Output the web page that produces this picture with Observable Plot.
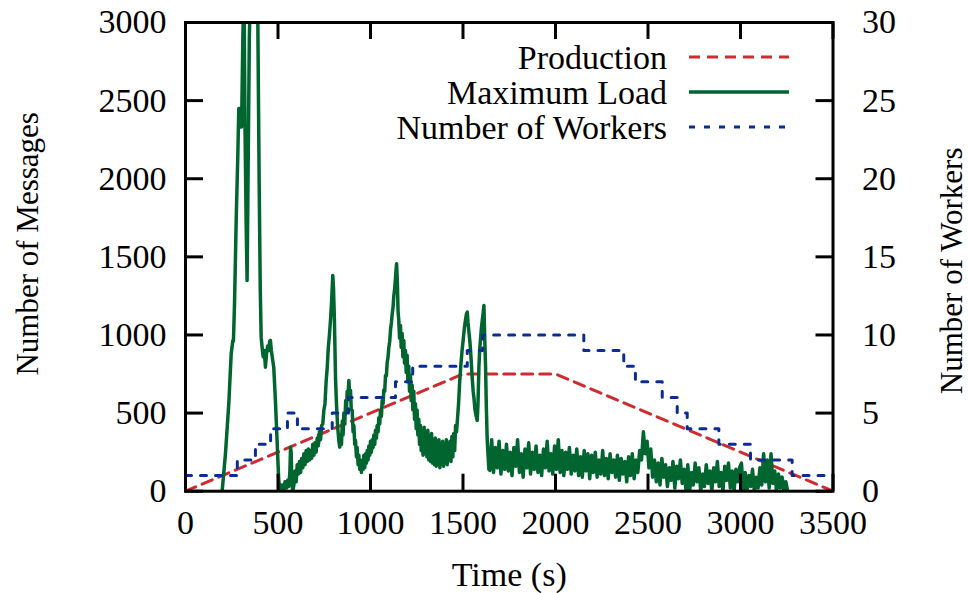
<!DOCTYPE html>
<html><head><meta charset="utf-8">
<script src="https://cdn.jsdelivr.net/npm/d3@7"></script>
<script src="https://cdn.jsdelivr.net/npm/@observablehq/plot@0.6"></script>
<style>body{margin:0;background:#fff}#chart{width:968px;height:593px}</style>
</head><body><div id="chart"></div>
<script>
// ---- data ----
const seriesNames = ["Production", "Maximum Load", "Number of Workers"];
const productionTime = [0, 1500, 2000, 3500];
const productionValue = [0, 750, 750, 0];
const workerTime = [0, 280, 378, 460, 551, 605, 793, 881, 1135, 1228, 1523, 1606, 2153, 2369, 2432, 2577, 2658, 2712, 2883, 3054, 3279, 3500];
const workerCount = [1, 2, 3, 4, 5, 4, 5, 6, 7, 8, 9, 10, 9, 8, 7, 6, 5, 4, 3, 2, 1, 1];
const loadPoints = [
[198,0],[216,239],[234,560],[247,880],[256,965],[259,960],[265,1200],[274,1734],[283,2160],[288,2449],[296,2449],[299,2331],[303,2331],[310,2900],[316,3250],[322,2300],[328,1700],[333,1348],[338,2000],[345,2900],[352,3300],[372,3500],[386,3300],[391,3000],[398,2000],[404,1300],[409,986],[414,922],[420,860],[426,900],[432,794],[438,880],[444,930],[450,900],[455,960],[459,965],[464,901],[470,850],[477,794],[486,581],[495,325],[504,68],[513,0],
[522,40],[530,0],[538,60],[546,20],[552,70],[558,30],[564,120],[568,282],[571,250],[575,60],[580,0],[586,40],[592,130],[598,60],[604,170],[610,110],[616,190],[622,120],[628,210],[634,150],[640,240],[646,170],[652,260],[658,190],[664,270],[670,200],[676,260],[682,210],[688,300],[694,230],[700,310],[706,250],[712,340],[718,290],[724,380],[730,330],[736,420],[742,430],[748,520],[754,560],[760,700],[766,790],[772,920],[778,1000],[784,1100],[790,1220],[796,1381],
[800,1300],[805,1093],[811,720],[816,560],[822,420],[829,320],[834,282],[838,360],[843,300],[848,450],[852,360],[856,500],[861,430],[866,580],[870,520],[874,640],[878,600],[883,709],[887,620],[892,645],[896,520],[901,517],[906,380],[910,420],[915,300],[919,325],[924,220],[928,280],[933,170],[937,230],[942,140],[946,200],[951,120],[955,190],[960,140],[964,230],[969,150],[973,240],[978,180],[982,260],[987,200],[991,290],[996,230],[1000,320],[1005,250],[1009,330],[1014,280],[1018,360],[1023,300],[1027,390],[1032,340],[1036,420],[1041,380],[1045,470],[1050,430],[1054,520],[1059,480],[1063,580],[1068,560],[1072,650],[1077,640],[1081,740],[1086,740],[1090,820],[1095,860],[1099,920],[1104,960],[1108,1030],[1113,1080],[1117,1130],[1122,1180],[1126,1250],[1131,1300],[1136,1380],[1141,1456],
[1145,1350],[1149,1150],[1153,1093],[1157,980],[1162,1060],[1166,920],[1171,1010],[1175,860],[1180,965],[1184,820],[1189,900],[1193,760],[1198,870],[1202,700],[1207,800],[1211,640],[1216,740],[1220,580],[1225,680],[1229,520],[1234,640],[1238,460],[1243,560],[1247,400],[1252,520],[1256,360],[1261,460],[1265,300],[1270,420],[1274,260],[1279,380],[1284,230],
[1290,410],[1295,240],[1300,380],[1305,220],[1310,390],[1315,200],[1320,350],[1325,190],[1330,370],[1335,180],[1340,330],[1345,170],[1350,340],[1355,160],[1360,320],[1365,170],[1370,330],[1375,150],[1380,300],[1385,170],[1390,320],[1395,160],[1400,290],[1405,180],[1410,330],[1415,170],[1420,300],[1425,200],[1430,320],[1435,190],[1440,350],[1445,220],[1450,370],[1455,260],[1460,420],[1465,380],
[1470,460],[1476,560],[1482,700],[1488,800],[1495,901],[1502,980],[1508,1050],[1514,1100],[1519,1136],[1523,1146],[1527,1080],[1532,1020],[1537,960],[1541,900],[1546,800],[1550,720],[1555,640],[1559,600],[1564,530],[1568,500],[1573,470],[1577,453],[1581,560],[1586,794],[1590,900],[1595,980],[1600,1050],[1604,1093],[1609,1140],[1613,1189],[1617,1000],[1622,794],[1626,550],[1631,325],[1636,220],[1640,140],[1645,133],
[1655,330],[1665,120],[1675,280],[1685,150],[1695,320],[1705,110],[1715,260],[1725,140],[1735,300],[1745,130],[1755,250],[1765,100],[1775,280],[1785,160],[1795,330],[1805,120],[1815,240],[1825,90],[1835,270],[1845,150],[1855,310],[1865,110],[1875,250],[1885,140],[1895,290],[1905,120],[1915,230],[1925,100],[1935,270],[1945,150],[1955,320],[1965,130],[1975,240],[1985,110],[1995,290],[2005,140],[2015,330],[2025,120],[2035,260],[2045,100],[2055,250],[2065,140],[2075,280],[2085,110],[2095,230],[2105,130],[2115,270],[2125,100],[2135,220],[2145,90],[2155,260],[2165,130],[2175,240],[2185,80],[2195,230],[2205,120],[2215,250],[2225,90],[2235,200],[2245,110],[2255,260],[2265,100],[2275,210],[2285,80],[2295,240],[2305,120],[2315,200],[2325,90],[2335,230],[2345,70],[2355,210],[2365,110],[2375,190],[2385,60],[2395,220],[2405,100],[2415,240],[2425,80],[2435,200],[2445,120],[2455,260],[2465,200],[2475,380],[2485,240],[2495,320],[2505,150],[2515,270],[2525,90],[2535,200],[2545,60],[2555,180],[2565,40],[2575,210],[2585,90],[2595,170],[2605,30],[2615,150],[2625,70],[2635,190],[2645,20],[2655,160],[2665,80],[2675,200],[2685,50],[2695,140],[2705,10],[2715,170],[2725,0],[2735,120],[2745,40],[2755,180],[2765,60],[2775,150],[2785,0],[2795,110],[2805,30],[2815,170],[2825,50],[2835,130],[2845,0],[2855,150],[2865,60],[2875,190],[2885,30],[2895,120],[2905,0],[2915,160],[2925,70],[2935,180],[2945,20],[2955,130],[2965,0],[2975,140],[2985,60],[2995,150],[3005,180],[3015,10],[3025,120],[3035,0],[3045,100],[3055,30],[3065,140],[3075,0],[3085,90],[3095,20],[3105,150],[3115,40],[3125,240],[3135,60],[3145,200],[3155,20],[3165,240],[3175,50],[3185,130],[3195,0],[3205,110],[3215,20],[3225,90],[3235,0],[3245,60],[3255,0]
];
const xTicks = [0, 500, 1000, 1500, 2000, 2500, 3000, 3500];
const yTicks = [0, 500, 1000, 1500, 2000, 2500, 3000];
const workerTicks = [0, 5, 10, 15, 20, 25, 30];

// ---- styling / layout ----
const RED = "#cf2b30", GREEN = "#00652e", BLUE = "#0b2d91";
const W = 968, H = 593, mL = 185, mR = 135.5, mT = 22, mB = 102.3;
const innerW = W - mL - mR, innerH = H - mT - mB;
const ratio = 3000 / 30; // messages per worker on the shared y scale
const FONT = "'Liberation Serif', 'DejaVu Serif', serif";

const prod = productionTime.map((t, i) => ({t, v: productionValue[i]}));
const workers = workerTime.map((t, i) => ({t, w: workerCount[i]}));
const load = loadPoints.map(([t, v]) => ({t, v}));

const svg = Plot.plot({
  width: W, height: H,
  marginLeft: mL, marginRight: mR, marginTop: mT, marginBottom: mB,
  style: {fontFamily: FONT, fontSize: "34px", color: "#000", background: "#fff"},
  x: {domain: [0, 3500]},
  y: {domain: [0, 3000]},
  marks: [
    Plot.line(prod, {x: "t", y: "v", stroke: RED, strokeWidth: 3, strokeDasharray: "11,7", clip: true}),
    Plot.line(load, {x: "t", y: "v", stroke: GREEN, strokeWidth: 3.5, strokeLinejoin: "round", clip: true}),
    Plot.line(workers, {x: "t", y: d => d.w * ratio, curve: "step-after", stroke: BLUE, strokeWidth: 3, strokeDasharray: "6,9", clip: true}),
    Plot.tickX(xTicks, {x: d => d, insetTop: innerH - 17, stroke: "#000", strokeWidth: 3}),
    Plot.tickX(xTicks, {x: d => d, insetBottom: innerH - 17, stroke: "#000", strokeWidth: 3}),
    Plot.tickY(yTicks, {y: d => d, insetRight: innerW - 18, stroke: "#000", strokeWidth: 3}),
    Plot.tickY(workerTicks, {y: d => d * ratio, insetLeft: innerW - 17, stroke: "#000", strokeWidth: 3}),
    Plot.frame({stroke: "#000", strokeWidth: 3}),
    Plot.axisX(xTicks, {anchor: "bottom", tickSize: 0, tickPadding: 19, tickFormat: d => String(d), label: null}),
    Plot.axisY(yTicks, {anchor: "left", tickSize: 0, tickPadding: 19, tickFormat: d => String(d), label: null}),
    Plot.axisY(workerTicks.map(d => d * ratio), {anchor: "right", tickSize: 0, tickPadding: 29, tickFormat: d => String(d / ratio), label: null}),
    Plot.text(["Time (s)"], {frameAnchor: "bottom", dy: 84, lineAnchor: "middle", textAnchor: "middle", fill: "#000", fontSize: 34}),
    Plot.text(["Number of Messages"], {frameAnchor: "left", dx: -157, dy: -13, rotate: -90, textAnchor: "middle", lineAnchor: "middle", fill: "#000", fontSize: 31}),
    Plot.text(["Number of Workers"], {frameAnchor: "right", dx: 119, dy: 14, rotate: -90, textAnchor: "middle", lineAnchor: "middle", fill: "#000", fontSize: 31})
  ]
});
document.getElementById("chart").appendChild(svg);

// ---- legend (inside the plot, top-right) ----
const legend = d3.select(svg).append("g").attr("font-family", FONT).attr("font-size", 34);
const styles = [
  {stroke: RED, dash: "11,7", width: 3},
  {stroke: GREEN, dash: null, width: 3.5},
  {stroke: BLUE, dash: "6,9", width: 3}
];
seriesNames.forEach((name, i) => {
  const cy = 57 + i * 35;
  legend.append("text").attr("x", 667).attr("y", cy).attr("dy", "0.35em")
    .attr("text-anchor", "end").attr("fill", "#000").text(name);
  const ln = legend.append("line").attr("x1", 689).attr("x2", 789).attr("y1", cy).attr("y2", cy)
    .attr("stroke", styles[i].stroke).attr("stroke-width", styles[i].width);
  if (styles[i].dash) ln.attr("stroke-dasharray", styles[i].dash);
});
</script>
</body></html>
